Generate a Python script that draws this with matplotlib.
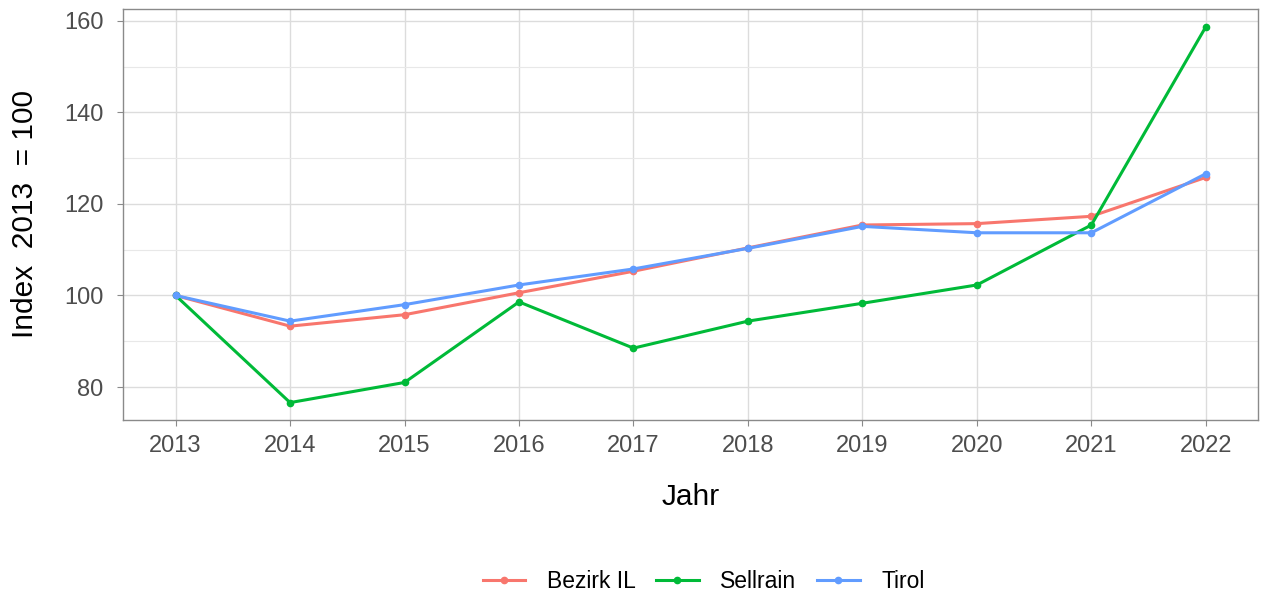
import numpy as np
import matplotlib.pyplot as plt
from matplotlib.ticker import MultipleLocator

plt.rcParams['font.family'] = ['Liberation Sans', 'DejaVu Sans']

years = [2013, 2014, 2015, 2016, 2017, 2018, 2019, 2020, 2021, 2022]
bezirk = [100, 93.3, 95.8, 100.6, 105.3, 110.4, 115.4, 115.7, 117.3, 125.8]
sellrain = [100, 76.6, 81.0, 98.6, 88.5, 94.4, 98.3, 102.3, 115.4, 158.7]
tirol = [100, 94.4, 98.0, 102.3, 105.8, 110.3, 115.1, 113.7, 113.7, 126.6]

series = [('Bezirk IL', bezirk, '#F8766D'),
          ('Sellrain', sellrain, '#00BA38'),
          ('Tirol', tirol, '#619CFF')]

fig = plt.figure(figsize=(12.61, 5.96), dpi=100)
ax = fig.add_axes([0.0975, 0.2953, 0.9005, 0.6897])

for name, vals, c in series:
    ax.plot(years, vals, color=c, lw=2.2, marker='o', ms=4.5, label=name, zorder=3)

ax.set_xlim(2012.54, 2022.46)
ax.set_ylim(72.8, 162.6)
ax.set_xticks(years)
ax.set_xticklabels([str(y) for y in years])
ax.yaxis.set_major_locator(MultipleLocator(20))
ax.yaxis.set_minor_locator(MultipleLocator(10))

ax.grid(which='major', color='#dcdcdc', lw=1.0, zorder=0)
ax.grid(which='minor', axis='y', color='#e8e8e8', lw=0.8, zorder=0)
for s in ax.spines.values():
    s.set_color('#8a8a8a')
    s.set_linewidth(1.0)
ax.tick_params(which='major', length=4.5, color='#8a8a8a', labelsize=17,
               labelcolor='#4d4d4d')
ax.tick_params(axis='x', pad=6)
ax.tick_params(axis='y', pad=9.5)
ax.tick_params(which='minor', length=0)

ax.set_xlabel('Jahr', fontsize=21.5)
ax.set_ylabel('Index  2013  = 100', fontsize=21.5)
ax.xaxis.set_label_coords(0.5, -0.153)
ax.yaxis.set_label_coords(-0.074, 0.5)

fig.legend(loc='center', bbox_to_anchor=(0.558, 0.0235), ncol=3, frameon=False,
           fontsize=16.5, handlelength=1.85, columnspacing=0.9, handletextpad=0.95)

fig.savefig('out.png', dpi=100)
